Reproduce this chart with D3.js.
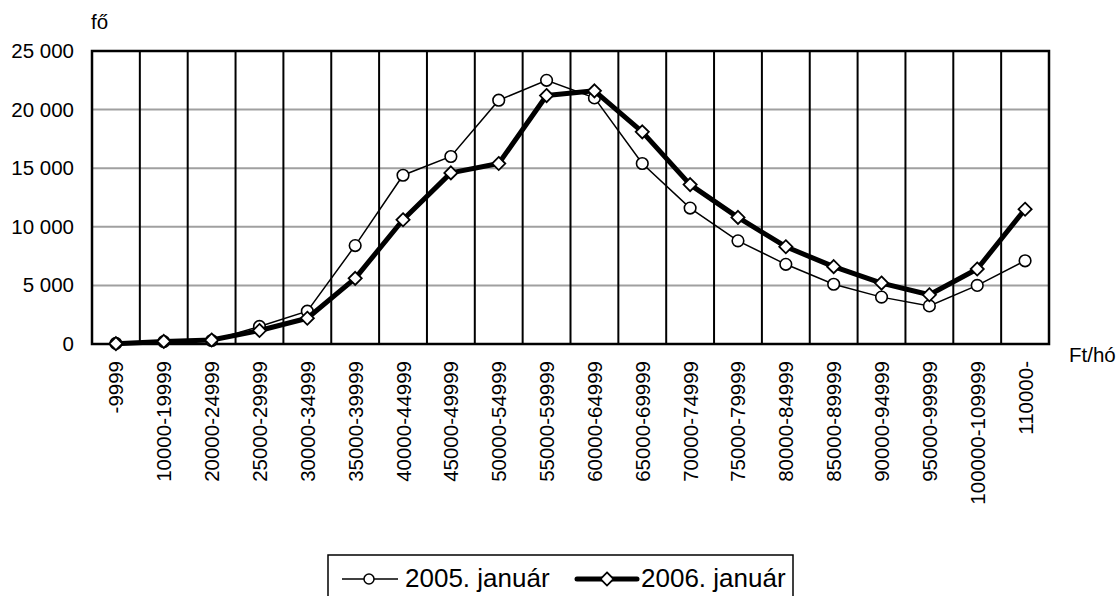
<!DOCTYPE html>
<html>
<head>
<meta charset="utf-8">
<script src="https://cdn.jsdelivr.net/npm/d3@7"></script>
<style>
  body { margin: 0; background: #fff; }
  text { font-family: "Liberation Sans", Arial, sans-serif; fill: #000; }
</style>
</head>
<body>
<svg id="chart" width="1120" height="596"></svg>
<script>
// income bands (Ft/hó)
const categories = ["-9999", "10000-19999", "20000-24999", "25000-29999", "30000-34999",
  "35000-39999", "40000-44999", "45000-49999", "50000-54999", "55000-59999",
  "60000-64999", "65000-69999", "70000-74999", "75000-79999", "80000-84999",
  "85000-89999", "90000-94999", "95000-99999", "100000-109999", "110000-"];

// headcount (fő)
const values2005 = [50, 200, 300, 1500, 2800, 8400, 14400, 16000, 20800, 22500,
  21000, 15400, 11600, 8800, 6800, 5100, 4000, 3250, 5000, 7100];
const values2006 = [30, 220, 340, 1150, 2200, 5600, 10600, 14600, 15400, 21200,
  21600, 18100, 13600, 10800, 8300, 6600, 5200, 4200, 6400, 11500];

const yTicks = [0, 5000, 10000, 15000, 20000, 25000];
const seriesNames = ["2005. január", "2006. január"];

const svg = d3.select("#chart");
const plotL = 92, plotR = 1049, plotT = 51, plotB = 344;
const axisFont = "20.5px";

const x = d3.scaleBand().domain(categories).range([plotL, plotR]);
const y = d3.scaleLinear().domain([0, 25000]).range([plotB, plotT]);

const fmt = v => d3.format(",")(v).replace(/,/g, " ");

// horizontal grid
svg.append("g")
  .selectAll("line")
  .data(yTicks.slice(1, -1))
  .join("line")
  .attr("x1", plotL).attr("x2", plotR)
  .attr("y1", d => y(d)).attr("y2", d => y(d))
  .attr("stroke", "#a0a0a0").attr("stroke-width", 2);

// vertical grid between categories
svg.append("g")
  .selectAll("line")
  .data(categories.slice(1))
  .join("line")
  .attr("x1", d => x(d)).attr("x2", d => x(d))
  .attr("y1", plotT).attr("y2", plotB)
  .attr("stroke", "#000").attr("stroke-width", 2);

// frame
svg.append("rect")
  .attr("x", plotL).attr("y", plotT)
  .attr("width", plotR - plotL).attr("height", plotB - plotT)
  .attr("fill", "none").attr("stroke", "#000").attr("stroke-width", 2.5);

// y axis
const yAxis = svg.append("g")
  .attr("transform", `translate(${plotL},0)`)
  .call(d3.axisLeft(y).tickValues(yTicks).tickFormat(fmt).tickSize(0).tickPadding(18));
yAxis.select(".domain").remove();
yAxis.selectAll("text").style("font-size", axisFont).style("font-family", "Liberation Sans, Arial, sans-serif");

// x axis (rotated labels)
const xAxis = svg.append("g")
  .attr("transform", `translate(0,${plotB})`)
  .call(d3.axisBottom(x).tickSize(0));
xAxis.select(".domain").remove();
xAxis.selectAll("text")
  .style("font-size", axisFont)
  .style("font-family", "Liberation Sans, Arial, sans-serif")
  .attr("text-anchor", "end")
  .attr("dy", null)
  .attr("dominant-baseline", "central")
  .attr("transform", "translate(0,17) rotate(-90)")
  .attr("x", 0).attr("y", 0);

// units
svg.append("text").attr("x", 91).attr("y", 29).style("font-size", axisFont).text("fő");
svg.append("text").attr("x", 1069).attr("y", 362).style("font-size", axisFont).text("Ft/hó");

const cx = d => x(d) + x.bandwidth() / 2;
const line = d3.line().x(d => cx(d.c)).y(d => y(d.v));

const s2005 = categories.map((c, i) => ({ c, v: values2005[i] }));
const s2006 = categories.map((c, i) => ({ c, v: values2006[i] }));

// 2005 thin line + circles
svg.append("path").datum(s2005).attr("d", line)
  .attr("fill", "none").attr("stroke", "#000").attr("stroke-width", 1.5);
svg.append("g").selectAll("circle").data(s2005).join("circle")
  .attr("cx", d => cx(d.c)).attr("cy", d => y(d.v)).attr("r", 5.8)
  .attr("fill", "#fff").attr("stroke", "#000").attr("stroke-width", 1.6);

// 2006 thick line + diamonds
svg.append("path").datum(s2006).attr("d", line)
  .attr("fill", "none").attr("stroke", "#000").attr("stroke-width", 5)
  .attr("stroke-linejoin", "round");
const diamond = d3.symbol().type(d3.symbolDiamond2).size(110);
svg.append("g").selectAll("path").data(s2006).join("path")
  .attr("d", diamond)
  .attr("transform", d => `translate(${cx(d.c)},${y(d.v)})`)
  .attr("fill", "#fff").attr("stroke", "#000").attr("stroke-width", 1.8);

// legend
const lg = svg.append("g");
lg.append("rect").attr("x", 328).attr("y", 555).attr("width", 465).attr("height", 50)
  .attr("fill", "#fff").attr("stroke", "#000").attr("stroke-width", 1.5);
lg.append("line").attr("x1", 342).attr("x2", 398).attr("y1", 579).attr("y2", 579)
  .attr("stroke", "#000").attr("stroke-width", 1.5);
lg.append("circle").attr("cx", 369).attr("cy", 579).attr("r", 5)
  .attr("fill", "#fff").attr("stroke", "#000").attr("stroke-width", 1.5);
lg.append("text").attr("x", 405).attr("y", 587).style("font-size", "26px").text(seriesNames[0]);
lg.append("line").attr("x1", 577).attr("x2", 637).attr("y1", 579).attr("y2", 579)
  .attr("stroke", "#000").attr("stroke-width", 5).attr("stroke-linecap", "round");
lg.append("path").attr("d", diamond).attr("transform", "translate(607,579)")
  .attr("fill", "#fff").attr("stroke", "#000").attr("stroke-width", 1.8);
lg.append("text").attr("x", 641).attr("y", 587).style("font-size", "26px").text(seriesNames[1]);
</script>
</body>
</html>
